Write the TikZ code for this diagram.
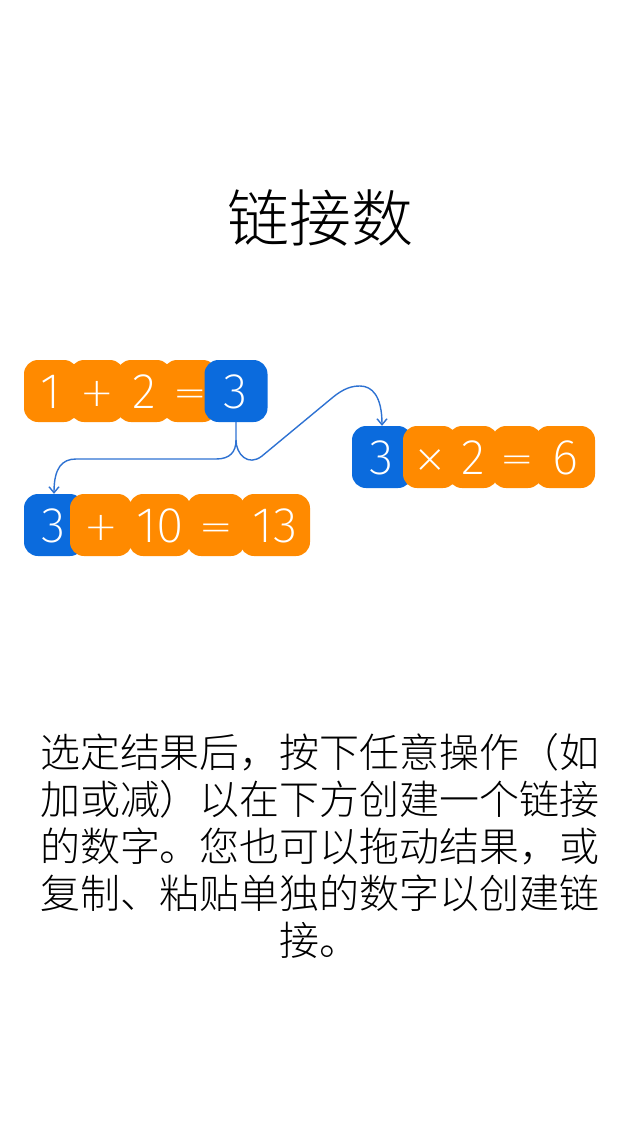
\documentclass[tikz,border=0pt]{standalone}
\usepackage{fontspec}
\setmainfont{Noto Sans CJK SC}[UprightFont=* Light]
\newfontfamily\tilefont{Fira Sans}[UprightFont=* ExtraLight]
\newfontfamily\opfont{DejaVu Sans}[UprightFont=* ExtraLight]
\newcommand{\op}[1]{\raisebox{2pt}{\opfont\fontsize{40pt}{40pt}\selectfont #1}}
\usepackage{tikz}
\usetikzlibrary{arrows.meta, positioning}
\definecolor{tileorange}{HTML}{FF8A00}
\definecolor{tileblue}{HTML}{0B6BDD}
\definecolor{linkblue}{HTML}{2E72D2}

\begin{document}
\begin{tikzpicture}[x=1pt, y=-1pt,
    tile/.style={rounded corners=14pt, minimum height=62pt, inner sep=0pt, text height=35pt, text depth=0pt,
        text=white, font=\tilefont\fontsize{50pt}{50pt}\selectfont},
    optile/.style={tile, fill=tileorange, minimum width=54pt},
    restile/.style={tile, fill=tileblue, minimum width=60pt},
    linkarrow/.style={-{Straight Barb[length=6pt, width=10pt]}, line width=1.4pt, linkblue},
]
\useasboundingbox (0,0) rectangle (640,1136);
% Title
\node[font=\fontsize{62pt}{62pt}\selectfont] (title) at (320,218) {链接数};
% First sum
\node[optile] (a1) at (51,391) {1};
\node[optile] (a2) at (97,391) {\op{+}};
\node[optile] (a3) at (144,391) {2};
\node[optile] (a4) at (190,391) {\op{=}};
\node[restile, minimum width=63pt] (res) at (236,391) {3};
% Linked sum below
\node[restile] (lnka) at (54,525) {3};
\node[optile, minimum width=62pt] (b1) at (101,525) {\op{+}};
\node[optile, minimum width=62pt] (b2) at (160,525) {10};
\node[optile, minimum width=58pt] (b3) at (216,525) {\op{=}};
\node[optile, minimum width=70pt] (b4) at (275,525) {13};
% Linked product on the right
\node[restile] (lnkb) at (382,457) {3};
\node[optile] (c1) at (430,457) {\op{×}};
\node[optile, minimum width=50pt] (c2) at (473,457) {2};
\node[optile, minimum width=50pt] (c3) at (517,457) {\op{=}};
\node[optile, minimum width=60pt] (c4) at (565,457) {6};
% Links
\coordinate (split) at (236,440);
\draw[linkarrow] (res.south) -- (split) .. controls (236,452) and (230,459) .. (216,459)
    -- (76,459) .. controls (62,459) and (54,468) .. (lnka.north);
\draw[linkarrow] (split) .. controls (236,454) and (248,467) .. (262,456)
    -- (332,398) .. controls (344,388) and (352,386) .. (360,386)
    .. controls (372,386) and (382,396) .. (lnkb.north);
% Caption
\node[align=center, font=\fontsize{40pt}{47pt}\selectfont] (caption) at (320,846)
    {选定结果后，按下任意操作（如\\加或减）以在下方创建一个链接\\的数字。您也可以拖动结果，或\\复制、粘贴单独的数字以创建链\\接。};
\end{tikzpicture}
\end{document}
